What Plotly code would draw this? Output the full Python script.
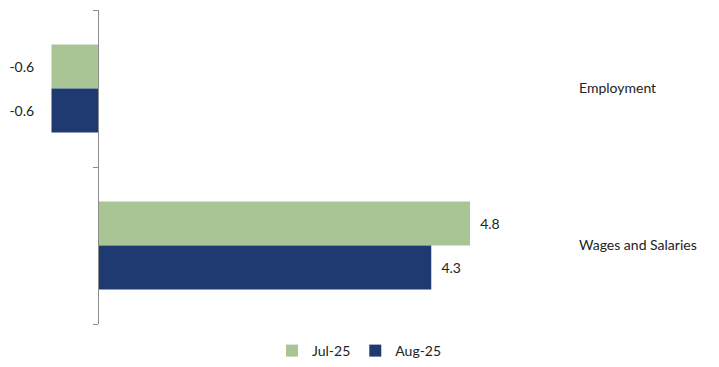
import plotly.graph_objects as go

categories = ["Employment", "Wages and Salaries"]
jul_25 = [-0.6, 4.8]
aug_25 = [-0.6, 4.3]
series_names = ["Jul-25", "Aug-25"]
colors = ["#a9c596", "#1f3a70"]

W, H = 719, 367
ml, mr, mt, mb = 20, 146, 10, 43
px_per_unit = 77.5
zero_px = 98
xmin = -(zero_px - ml) / px_per_unit
xmax = (W - mr - zero_px) / px_per_unit
zero_frac = (0 - xmin) / (xmax - xmin)

font = dict(family="Lato, 'Open Sans', sans-serif", size=14, color="#222222")
NB = "\u00a0"

fig = go.Figure()
for name, vals, c in zip(series_names, [jul_25, aug_25], colors):
    tmpl = [("%{x:.1f}" + NB * 4) if v < 0 else (NB * 2 + "%{x:.1f}") for v in vals]
    fig.add_trace(go.Bar(
        y=categories, x=vals, name=name, orientation="h",
        marker=dict(color=c, line=dict(width=0)),
        texttemplate=tmpl, textposition="outside",
        textfont=font, cliponaxis=False,
    ))

n = len(categories)
yr = [n - 0.5, -0.5]
fig.update_layout(
    width=W, height=H,
    margin=dict(l=ml, r=mr, t=mt, b=mb),
    paper_bgcolor="white", plot_bgcolor="white",
    barmode="group", bargap=0.44, bargroupgap=0,
    font=font,
    xaxis=dict(range=[xmin, xmax], visible=False, fixedrange=True),
    yaxis=dict(
        type="category", categoryarray=categories, categoryorder="array",
        range=yr, visible=False,
    ),
    yaxis2=dict(
        overlaying="y", side="right", anchor="x",
        range=yr,
        tickvals=list(range(n)), ticktext=categories,
        showline=False, ticks="", showgrid=False, zeroline=False,
        tickfont=font, ticklabelstandoff=5,
    ),
    yaxis3=dict(
        overlaying="y", anchor="free", position=zero_frac,
        range=yr,
        tickvals=[i - 0.5 for i in range(n + 1)],
        showline=True, linecolor="#8c8c8c", linewidth=1,
        ticks="outside", ticklen=5, tickcolor="#8c8c8c",
        showticklabels=False, showgrid=False, zeroline=False,
    ),
    legend=dict(
        orientation="h", xref="container", yref="container",
        x=0.5, xanchor="center", y=0.0, yanchor="bottom",
        font=font, traceorder="normal",
        itemwidth=30,
    ),
    showlegend=True,
)
fig.add_trace(go.Scatter(x=[None], y=[None], yaxis="y2", showlegend=False, hoverinfo="skip"))
fig.add_trace(go.Scatter(x=[None], y=[None], yaxis="y3", showlegend=False, hoverinfo="skip"))

fig.write_html("out.html")
